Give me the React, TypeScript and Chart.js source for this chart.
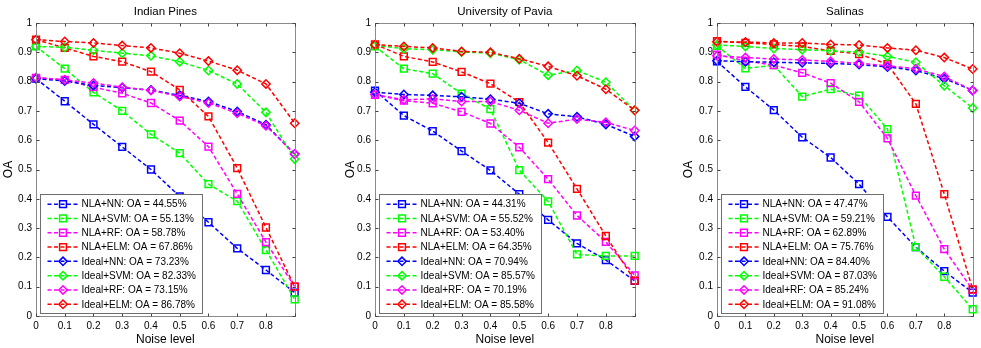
import React, { useEffect, useRef } from 'react';
import { Chart, registerables } from 'chart.js';

Chart.register(...registerables);

// ---------- data ----------
const noiseLevels = [0, 0.1, 0.2, 0.3, 0.4, 0.5, 0.6, 0.7, 0.8, 0.9];
const xTickLabels = ['0', '0.1', '0.2', '0.3', '0.4', '0.5', '0.6', '0.7', '0.8', ''];
const yTickValues = [0, 0.1, 0.2, 0.3, 0.4, 0.5, 0.6, 0.7, 0.8, 0.9, 1];
const yTickLabels = ['0', '0.1', '0.2', '0.3', '0.4', '0.5', '0.6', '0.7', '0.8', '0.9', '1'];

const seriesNames = ['NLA+NN', 'NLA+SVM', 'NLA+RF', 'NLA+ELM', 'Ideal+NN', 'Ideal+SVM', 'Ideal+RF', 'Ideal+ELM'];
const seriesColors = ['#0000ff', '#00ff00', '#ff00ff', '#ff0000', '#0000ff', '#00ff00', '#ff00ff', '#ff0000'];
const seriesMarkers = ['rect', 'rect', 'rect', 'rect', 'rectRot', 'rectRot', 'rectRot', 'rectRot'];

// Indian Pines
const ipNlaNn = [0.81, 0.733, 0.654, 0.577, 0.5, 0.408, 0.32, 0.231, 0.157, 0.08];
const ipNlaSvm = [0.92, 0.844, 0.763, 0.7, 0.62, 0.556, 0.45, 0.392, 0.225, 0.057];
const ipNlaRf = [0.813, 0.806, 0.781, 0.76, 0.727, 0.667, 0.578, 0.417, 0.252, 0.1];
const ipNlaElm = [0.943, 0.915, 0.886, 0.868, 0.834, 0.772, 0.681, 0.505, 0.302, 0.1];
const ipIdealNn = [0.81, 0.802, 0.787, 0.779, 0.771, 0.753, 0.732, 0.698, 0.653, 0.553];
const ipIdealSvm = [0.92, 0.917, 0.907, 0.897, 0.888, 0.868, 0.838, 0.792, 0.695, 0.536];
const ipIdealRf = [0.814, 0.806, 0.795, 0.781, 0.77, 0.749, 0.727, 0.692, 0.649, 0.553];
const ipIdealElm = [0.943, 0.937, 0.932, 0.923, 0.915, 0.897, 0.87, 0.839, 0.792, 0.658];
const ipLegendOA = ['44.55', '55.13', '58.78', '67.86', '73.23', '82.33', '73.15', '86.78'];

// University of Pavia
const upNlaNn = [0.769, 0.684, 0.631, 0.563, 0.497, 0.416, 0.328, 0.248, 0.191, 0.12];
const upNlaSvm = [0.92, 0.844, 0.827, 0.759, 0.706, 0.498, 0.391, 0.21, 0.205, 0.205];
const upNlaRf = [0.755, 0.735, 0.726, 0.697, 0.657, 0.576, 0.467, 0.343, 0.253, 0.139];
const upNlaElm = [0.927, 0.886, 0.867, 0.833, 0.793, 0.73, 0.592, 0.434, 0.273, 0.121];
const upIdealNn = [0.764, 0.756, 0.753, 0.748, 0.74, 0.726, 0.69, 0.68, 0.654, 0.613];
const upIdealSvm = [0.924, 0.912, 0.909, 0.901, 0.897, 0.875, 0.822, 0.838, 0.798, 0.702];
const upIdealRf = [0.756, 0.738, 0.741, 0.732, 0.732, 0.702, 0.658, 0.672, 0.661, 0.633];
const upIdealElm = [0.926, 0.92, 0.915, 0.903, 0.9, 0.878, 0.852, 0.82, 0.774, 0.702];
const upLegendOA = ['44.31', '55.52', '53.40', '64.35', '70.94', '85.57', '70.19', '85.58'];

// Salinas
const saNlaNn = [0.869, 0.782, 0.703, 0.61, 0.541, 0.45, 0.338, 0.235, 0.153, 0.08];
const saNlaSvm = [0.922, 0.845, 0.856, 0.749, 0.774, 0.752, 0.638, 0.235, 0.134, 0.023];
const saNlaRf = [0.892, 0.871, 0.856, 0.83, 0.795, 0.731, 0.606, 0.411, 0.228, 0.089];
const saNlaElm = [0.938, 0.932, 0.927, 0.92, 0.905, 0.894, 0.86, 0.724, 0.416, 0.091];
const saIdealNn = [0.871, 0.868, 0.866, 0.864, 0.862, 0.858, 0.85, 0.838, 0.81, 0.77];
const saIdealSvm = [0.925, 0.92, 0.913, 0.909, 0.905, 0.901, 0.886, 0.866, 0.786, 0.71];
const saIdealRf = [0.888, 0.882, 0.877, 0.874, 0.869, 0.863, 0.854, 0.844, 0.817, 0.77];
const saIdealElm = [0.936, 0.935, 0.932, 0.932, 0.927, 0.925, 0.915, 0.907, 0.882, 0.843];
const saLegendOA = ['47.47', '59.21', '62.89', '75.76', '84.40', '87.03', '85.24', '91.08'];

// ---------- layout ----------
const FONT = '"Liberation Sans", Arial, Helvetica, sans-serif';
const H = 348;

const panels = [
  {
    title: 'Indian Pines', left: 0, width: 301, yAxisWidth: 36,
    series: [ipNlaNn, ipNlaSvm, ipNlaRf, ipNlaElm, ipIdealNn, ipIdealSvm, ipIdealRf, ipIdealElm],
    oa: ipLegendOA,
  },
  {
    title: 'University of Pavia', left: 342, width: 299, yAxisWidth: 33,
    series: [upNlaNn, upNlaSvm, upNlaRf, upNlaElm, upIdealNn, upIdealSvm, upIdealRf, upIdealElm],
    oa: upLegendOA,
  },
  {
    title: 'Salinas', left: 680, width: 299, yAxisWidth: 37,
    series: [saNlaNn, saNlaSvm, saNlaRf, saNlaElm, saIdealNn, saIdealSvm, saIdealRf, saIdealElm],
    oa: saLegendOA,
  },
];

function drawMarker(ctx: CanvasRenderingContext2D, style: string, x: number, y: number) {
  ctx.beginPath();
  if (style === 'rect') {
    const s = 3.4;
    ctx.rect(x - s, y - s, 2 * s, 2 * s);
  } else {
    const r = 4.2;
    ctx.moveTo(x, y - r);
    ctx.lineTo(x + r, y);
    ctx.lineTo(x, y + r);
    ctx.lineTo(x - r, y);
    ctx.closePath();
  }
  ctx.stroke();
}

const decorPlugin = {
  id: 'decor',
  afterDatasetsDraw(chart: any, _args: any, opts: any) {
    const { ctx, chartArea, scales } = chart;
    const { left, right, top, bottom } = chartArea;
    ctx.save();
    // box
    ctx.strokeStyle = '#8a8a8a';
    ctx.lineWidth = 1;
    ctx.setLineDash([]);
    const l = Math.round(left) + 0.5, r = Math.round(right) + 0.5;
    const t = Math.round(top) + 0.5, b = Math.round(bottom) + 0.5;
    ctx.strokeRect(l, t, r - l, b - t);
    // inward ticks
    ctx.strokeStyle = '#444';
    ctx.beginPath();
    for (const v of noiseLevels) {
      const px = Math.round(scales.x.getPixelForValue(v)) + 0.5;
      ctx.moveTo(px, b); ctx.lineTo(px, b - 3);
      ctx.moveTo(px, t); ctx.lineTo(px, t + 3);
    }
    for (const v of yTickValues) {
      const py = Math.round(scales.y.getPixelForValue(v)) + 0.5;
      ctx.moveTo(l, py); ctx.lineTo(l + 3, py);
      ctx.moveTo(r, py); ctx.lineTo(r - 3, py);
    }
    ctx.stroke();

    // title
    ctx.fillStyle = '#000';
    ctx.font = `11.5px ${FONT}`;
    ctx.textAlign = 'center';
    ctx.textBaseline = 'middle';
    ctx.fillText(opts.title, (left + right) / 2, 12);

    // legend
    ctx.font = `10px ${FONT}`;
    const labels: string[] = seriesNames.map((n, i) => `${n}: OA = ${opts.oa[i]}%`);
    let maxW = 0;
    for (const s of labels) maxW = Math.max(maxW, ctx.measureText(s).width);
    const rowH = 14.3;
    const lw = 41 + maxW + 6;
    const lh = 8 * rowH + 5;
    const lx = Math.round(left + 4) + 0.5;
    const ly = Math.round(bottom - 3 - lh) + 0.5;
    ctx.fillStyle = '#fff';
    ctx.fillRect(lx, ly, lw, lh);
    ctx.strokeStyle = '#6e6e6e';
    ctx.lineWidth = 1;
    ctx.strokeRect(lx, ly, Math.round(lw), Math.round(lh));
    for (let i = 0; i < labels.length; i++) {
      const cy = ly + 2.5 + rowH / 2 + i * rowH;
      ctx.strokeStyle = seriesColors[i];
      ctx.lineWidth = 1.5;
      ctx.setLineDash([4, 2.5]);
      ctx.beginPath();
      ctx.moveTo(lx + 7, cy);
      ctx.lineTo(lx + 38, cy);
      ctx.stroke();
      ctx.setLineDash([]);
      drawMarker(ctx, seriesMarkers[i], lx + 22.5, cy);
      ctx.fillStyle = '#000';
      ctx.textAlign = 'left';
      ctx.textBaseline = 'middle';
      ctx.fillText(labels[i], lx + 41, cy + 0.5);
    }
    ctx.restore();
  },
};

function Panel({ cfg }: { cfg: any }) {
  const ref = useRef<HTMLCanvasElement>(null);
  useEffect(() => {
    const canvas = ref.current;
    if (!canvas) return;
    const datasets = cfg.series.map((vals: number[], i: number) => ({
      label: seriesNames[i],
      data: noiseLevels.map((x, j) => ({ x, y: vals[j] })),
      borderColor: seriesColors[i],
      backgroundColor: 'rgba(0,0,0,0)',
      borderWidth: 1.5,
      borderDash: [4, 2.5],
      pointStyle: seriesMarkers[i],
      pointRadius: seriesMarkers[i] === 'rect' ? 4.8 : 4.2,
      pointBorderWidth: 1.5,
      pointBorderColor: seriesColors[i],
      pointBackgroundColor: 'rgba(0,0,0,0)',
      tension: 0,
      clip: 8,
      order: 7 - i,
    }));
    const chart = new Chart(canvas, {
      type: 'line',
      data: { datasets },
      options: {
        animation: false,
        responsive: false,
        maintainAspectRatio: false,
        devicePixelRatio: 1,
        layout: { padding: { top: 23, right: 6, left: 0, bottom: 0 } },
        plugins: {
          legend: { display: false },
          title: { display: false },
          tooltip: { enabled: false },
          decor: { title: cfg.title, oa: cfg.oa },
        } as any,
        scales: {
          x: {
            type: 'linear',
            min: 0,
            max: 0.9,
            grid: { display: false, drawTicks: false },
            border: { display: false },
            afterBuildTicks: (s: any) => { s.ticks = noiseLevels.map((v) => ({ value: v })); },
            afterFit: (s: any) => { s.height = 32; },
            ticks: {
              autoSkip: false,
              maxRotation: 0,
              padding: 4,
              color: '#000',
              font: { family: FONT, size: 10 },
              callback: (_v: any, idx: number) => xTickLabels[idx] ?? '',
            },
            title: {
              display: true,
              text: 'Noise level',
              color: '#000',
              font: { family: FONT, size: 12 },
              padding: { top: 0, bottom: 1 },
            },
          },
          y: {
            type: 'linear',
            min: 0,
            max: 1,
            grid: { display: false, drawTicks: false },
            border: { display: false },
            afterBuildTicks: (s: any) => { s.ticks = yTickValues.map((v) => ({ value: v })); },
            afterFit: (s: any) => { s.width = cfg.yAxisWidth; },
            ticks: {
              autoSkip: false,
              padding: 4,
              color: '#000',
              font: { family: FONT, size: 10 },
              callback: (_v: any, idx: number) => yTickLabels[idx] ?? '',
            },
            title: {
              display: true,
              text: 'OA',
              color: '#000',
              font: { family: FONT, size: 12 },
              padding: { top: 1, bottom: 0 },
            },
          },
        },
      } as any,
      plugins: [decorPlugin as any],
    });
    return () => chart.destroy();
  }, [cfg]);
  return (
    <canvas
      ref={ref}
      width={cfg.width}
      height={H}
      style={{ position: 'absolute', left: cfg.left, top: 0, width: cfg.width, height: H }}
    />
  );
}

export default function App() {
  return (
    <div style={{ position: 'absolute', left: 0, top: 0, width: 981, height: H, background: '#fff', overflow: 'hidden' }}>
      {panels.map((p) => (
        <Panel key={p.title} cfg={p} />
      ))}
    </div>
  );
}
